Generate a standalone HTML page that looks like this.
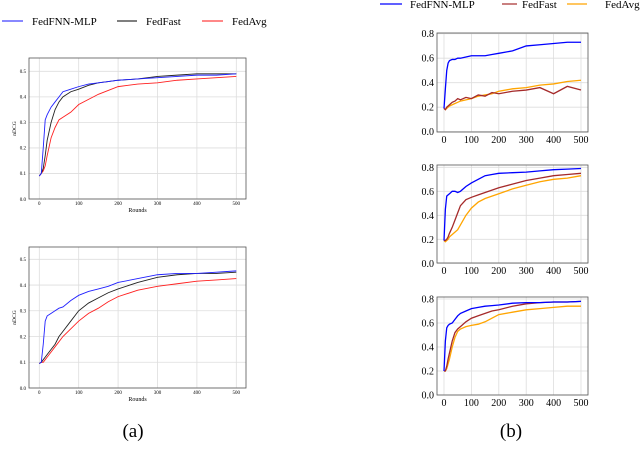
<!DOCTYPE html>
<html><head><meta charset="utf-8"><style>
body{margin:0;background:#fff;}
svg{display:block;font-family:"Liberation Serif",serif;}
</style></head><body>
<svg id="fig" width="640" height="465" viewBox="0 0 640 465">
<g>
<line x1="2" y1="21" x2="23" y2="21" stroke="#4040ff" stroke-width="1.2"/><text x="32" y="25" font-size="11">FedFNN-MLP</text>
<line x1="117" y1="21" x2="137" y2="21" stroke="#333" stroke-width="1.2"/><text x="146" y="25" font-size="11">FedFast</text>
<line x1="202" y1="21" x2="223" y2="21" stroke="#ff4040" stroke-width="1.2"/><text x="232" y="25" font-size="11">FedAvg</text>
</g>
<g>
<line x1="380" y1="4" x2="402" y2="4" stroke="#0000ff" stroke-width="1.2"/><text x="410" y="8" font-size="11">FedFNN-MLP</text>
<line x1="502" y1="4" x2="517" y2="4" stroke="#a52a2a" stroke-width="1.2"/><text x="522" y="8" font-size="11">FedFast</text>
<line x1="567" y1="4" x2="587" y2="4" stroke="#ffa500" stroke-width="1.2"/><text x="605" y="8" font-size="11">FedAvg</text>
</g>
<text x="133" y="437" font-size="19" text-anchor="middle">(a)</text>
<text x="511" y="437" font-size="19" text-anchor="middle">(b)</text>
</svg>
<script>
const xs=[0,5,10,15,20,30,40,50,60,80,100,125,150,175,200,250,300,350,400,450,500];
const a1Blue=[.09,.1,.2,.31,.33,.36,.38,.4,.42,.43,.44,.45,.455,.46,.465,.47,.475,.48,.485,.485,.49];
const a1Black=[.09,.1,.12,.17,.23,.3,.35,.38,.4,.42,.43,.445,.455,.46,.465,.47,.48,.485,.49,.49,.49];
const a1Red=[.09,.1,.11,.13,.17,.24,.28,.31,.32,.34,.37,.39,.41,.425,.44,.45,.455,.465,.47,.475,.48];
const a2Blue=[.095,.1,.17,.26,.28,.29,.3,.31,.315,.34,.36,.375,.385,.395,.41,.425,.44,.445,.445,.45,.455];
const a2Black=[.095,.1,.11,.12,.13,.15,.17,.2,.22,.26,.3,.33,.35,.37,.385,.41,.43,.44,.445,.445,.45];
const a2Red=[.095,.1,.1,.11,.12,.14,.16,.18,.2,.23,.26,.29,.31,.335,.355,.38,.395,.405,.415,.42,.425];
const b1Blue=[.19,.35,.5,.56,.58,.59,.59,.6,.6,.61,.62,.62,.62,.63,.64,.66,.7,.71,.72,.73,.73];
const b1Brown=[.19,.18,.2,.21,.22,.24,.25,.27,.26,.28,.27,.3,.29,.32,.31,.33,.34,.36,.31,.37,.34];
const b1Orange=[.19,.18,.19,.2,.21,.22,.23,.24,.25,.26,.27,.29,.3,.31,.33,.35,.36,.38,.39,.41,.42];
const b2Blue=[.19,.45,.56,.57,.58,.6,.6,.59,.6,.64,.67,.7,.73,.74,.75,.755,.76,.77,.78,.785,.79];
const b2Brown=[.19,.19,.2,.22,.25,.3,.36,.42,.48,.53,.55,.57,.59,.61,.63,.66,.69,.71,.73,.74,.75];
const b2Orange=[.19,.18,.19,.2,.22,.24,.26,.28,.32,.4,.46,.51,.54,.56,.58,.62,.65,.68,.7,.71,.73];
const b3Blue=[.2,.45,.56,.58,.59,.6,.63,.66,.68,.7,.72,.73,.74,.745,.75,.765,.77,.77,.775,.775,.78];
const b3Brown=[.2,.2,.24,.3,.35,.45,.52,.55,.57,.61,.64,.66,.68,.7,.71,.74,.76,.77,.775,.775,.78];
const b3Orange=[.2,.2,.22,.26,.3,.4,.48,.53,.55,.57,.58,.59,.61,.64,.67,.69,.71,.72,.73,.74,.74];
const aYTicks=[0,.1,.2,.3,.4,.5];
const bYTicks=[0,.2,.4,.6,.8];
const xTicks=[0,100,200,300,400,500];
const NS='http://www.w3.org/2000/svg';
const svg=document.getElementById('fig');
function mk(t,a,p){const e=document.createElementNS(NS,t);for(const k in a)e.setAttribute(k,a[k]);(p||svg).appendChild(e);return e;}
function chart(name,box,x0,x500,y0,yTopVal,yTopPx,yTicks,fs,series,isA){
  const g=mk('g',{});
  
  
  const sx=v=>x0+(x500-x0)*v/500, sy=v=>y0-(y0-yTopPx)*v/yTopVal;
  yTicks.forEach(t=>{const l=mk('line',{x1:box[0],x2:box[2],y1:sy(t),y2:sy(t),stroke:'#ddd','stroke-width':0.8},g);
    
    const tx=mk('text',{x:box[0]-3,y:sy(t)+fs*0.35,'font-size':fs,'text-anchor':'end'},g);tx.textContent=t.toFixed(1);
    });
  xTicks.forEach(t=>{const l=mk('line',{x1:sx(t),x2:sx(t),y1:box[1],y2:box[3],stroke:'#ddd','stroke-width':0.8},g);
    
    const tx=mk('text',{x:sx(t),y:box[3]+fs+1,'font-size':fs,'text-anchor':'middle'},g);tx.textContent=t;
    });
  series.forEach(s=>{const p=mk('polyline',{points:xs.map((x,i)=>sx(x)+','+sy(s[0][i])).join(' '),fill:'none',stroke:s[1],'stroke-width':isA?0.9:1.3},g);
    });
  const r=mk('rect',{x:box[0],y:box[1],width:box[2]-box[0],height:box[3]-box[1],fill:'none',stroke:'#555','stroke-width':0.8},g);
  
  if(isA){const yl=mk('text',{x:16,y:(box[1]+box[3])/2,'font-size':5.5,'text-anchor':'middle',transform:`rotate(-90 16 ${(box[1]+box[3])/2})`},g);yl.textContent='nDCG';
    
    const xl=mk('text',{x:(box[0]+box[2])/2,y:box[3]+13,'font-size':6,'text-anchor':'middle'},g);xl.textContent='Rounds';
    }
}
chart('chart-a-top',[29,58,246,199],39.3,236.3,199,.5,71.3,aYTicks,5,[[a1Red,'#ff2020','line-fedavg'],[a1Black,'#222','line-fedfast'],[a1Blue,'#2020ff','line-fedfnn-mlp']],true);
chart('chart-a-bottom',[29,247,246,388],39.3,236.3,388,.5,259.3,aYTicks,5,[[a2Red,'#ff2020','line-fedavg'],[a2Black,'#222','line-fedfast'],[a2Blue,'#2020ff','line-fedfnn-mlp']],true);
chart('chart-b-top',[437,33,588,132],444,581,131.7,.8,33.7,bYTicks,10,[[b1Orange,'#ffa500','line-fedavg'],[b1Brown,'#a52a2a','line-fedfast'],[b1Blue,'#0000ff','line-fedfnn-mlp']],false);
chart('chart-b-middle',[437,165,588,263],444,581,263.3,.8,167.3,bYTicks,10,[[b2Orange,'#ffa500','line-fedavg'],[b2Brown,'#a52a2a','line-fedfast'],[b2Blue,'#0000ff','line-fedfnn-mlp']],false);
chart('chart-b-bottom',[437,297,588,395],444,581,395,.8,299,bYTicks,10,[[b3Orange,'#ffa500','line-fedavg'],[b3Brown,'#a52a2a','line-fedfast'],[b3Blue,'#0000ff','line-fedfnn-mlp']],false);
</script>
</body></html>
